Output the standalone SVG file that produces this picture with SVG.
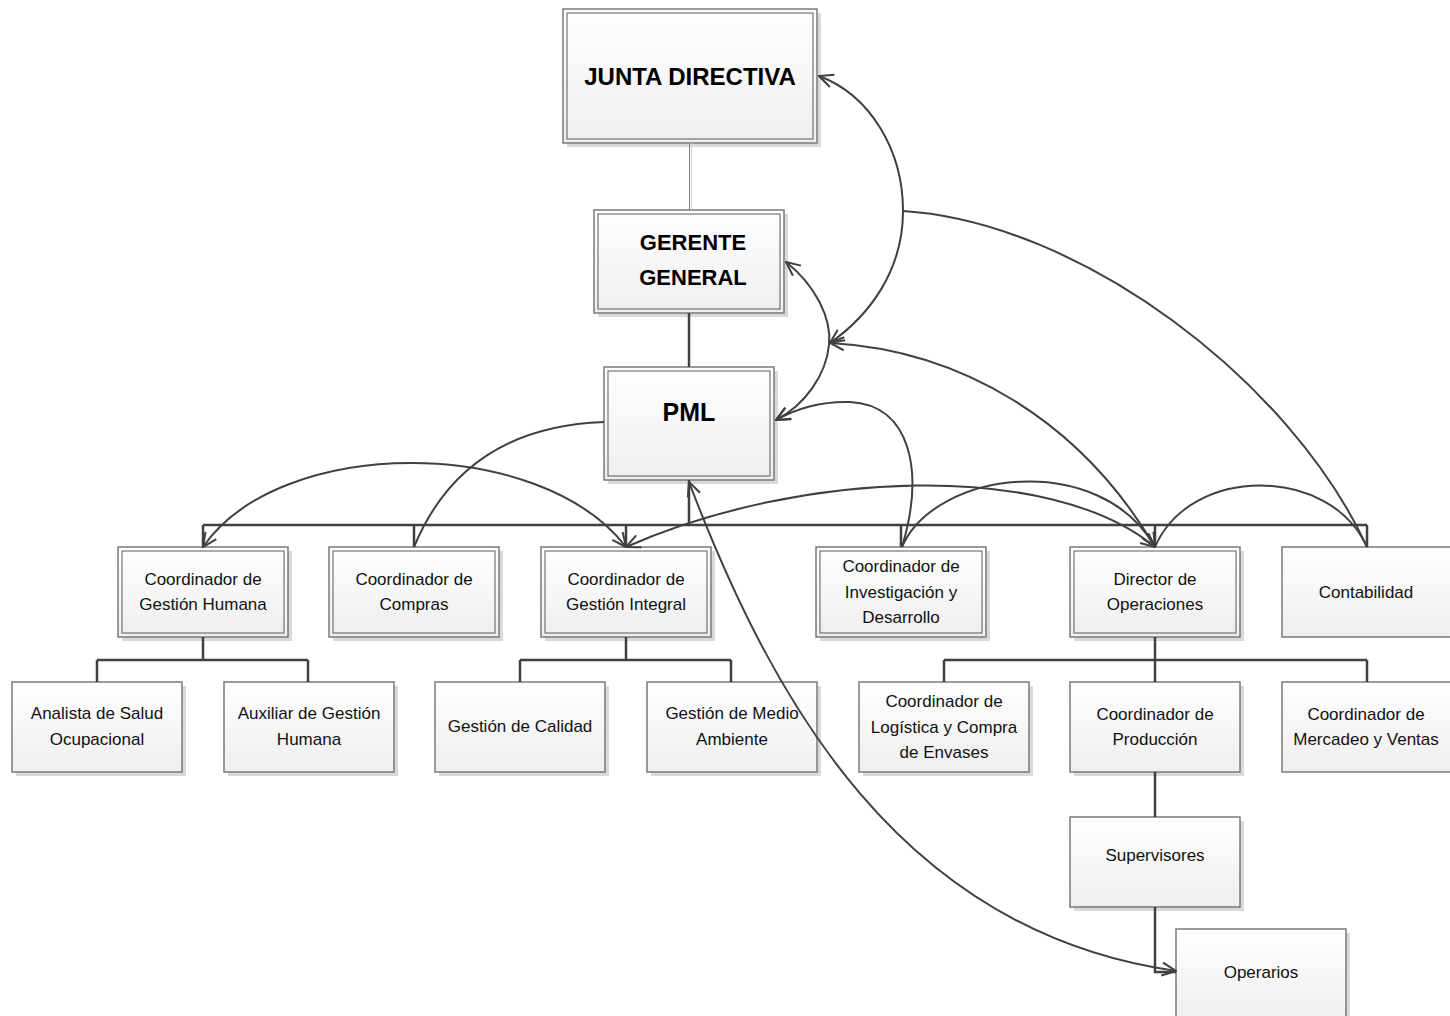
<svg xmlns="http://www.w3.org/2000/svg" width="1450" height="1016" viewBox="0 0 1450 1016">
<defs>
<linearGradient id="g" x1="0" y1="0" x2="0" y2="1"><stop offset="0" stop-color="#ffffff"/><stop offset="1" stop-color="#eeeeee"/></linearGradient>
<marker id="arr" viewBox="0 0 16 16" refX="15" refY="8" markerWidth="16" markerHeight="16" markerUnits="userSpaceOnUse" orient="auto-start-reverse"><path d="M1,1.5 L15,8 L1,14.5" fill="none" stroke="#404040" stroke-width="2"/></marker>
<style>
.sh{fill:#d9d9d9}
.box{fill:url(#g);stroke:#7a7a7a;stroke-width:1.5}
.in{fill:none;stroke:#5a5a5a;stroke-width:1}
.t{font-family:"Liberation Sans",Arial,sans-serif;font-size:17px;fill:#111;text-anchor:middle;dominant-baseline:central}
.b{font-family:"Liberation Sans",Arial,sans-serif;font-weight:bold;fill:#000;text-anchor:middle;dominant-baseline:central}
.tree{fill:none;stroke:#404040;stroke-width:2.5}
.cv{fill:none;stroke:#404040;stroke-width:2}
</style>
</defs>
<rect width="1450" height="1016" fill="#fff"/>

<g id="junta">
<rect class="sh" x="567" y="13" width="254" height="134"/>
<rect class="box" x="563" y="9" width="254" height="134"/>
<rect class="in" x="567" y="13" width="246" height="126"/>
<text class="b" font-size="24" x="690" y="76">JUNTA DIRECTIVA</text>
</g>
<g id="gerente">
<rect class="sh" x="598" y="214" width="190" height="103"/>
<rect class="box" x="594" y="210" width="190" height="103"/>
<rect class="in" x="598" y="214" width="182" height="95"/>
<text class="b" font-size="22" x="693" y="242">GERENTE</text>
<text class="b" font-size="22" x="693" y="277">GENERAL</text>
</g>
<g id="pml">
<rect class="sh" x="608" y="371" width="170" height="113"/>
<rect class="box" x="604" y="367" width="170" height="113"/>
<rect class="in" x="608" y="371" width="162" height="105"/>
<text class="b" font-size="25" x="689" y="412">PML</text>
</g>

<g id="gestion-humana">
<rect class="sh" x="122" y="551" width="170" height="90"/>
<rect class="box" x="118" y="547" width="170" height="90"/>
<rect class="in" x="122" y="551" width="162" height="82"/>
<text class="t" x="203" y="579">Coordinador de</text>
<text class="t" x="203" y="604">Gestión Humana</text>
</g>
<g id="compras">
<rect class="sh" x="333" y="551" width="170" height="90"/>
<rect class="box" x="329" y="547" width="170" height="90"/>
<rect class="in" x="333" y="551" width="162" height="82"/>
<text class="t" x="414" y="579">Coordinador de</text>
<text class="t" x="414" y="604">Compras</text>
</g>
<g id="gestion-integral">
<rect class="sh" x="545" y="551" width="170" height="90"/>
<rect class="box" x="541" y="547" width="170" height="90"/>
<rect class="in" x="545" y="551" width="162" height="82"/>
<text class="t" x="626" y="579">Coordinador de</text>
<text class="t" x="626" y="604">Gestión Integral</text>
</g>
<g id="investigacion">
<rect class="sh" x="820" y="551" width="170" height="90"/>
<rect class="box" x="816" y="547" width="170" height="90"/>
<rect class="in" x="820" y="551" width="162" height="82"/>
<text class="t" x="901" y="566">Coordinador de</text>
<text class="t" x="901" y="592">Investigación y</text>
<text class="t" x="901" y="617">Desarrollo</text>
</g>
<g id="director-operaciones">
<rect class="sh" x="1074" y="551" width="170" height="90"/>
<rect class="box" x="1070" y="547" width="170" height="90"/>
<rect class="in" x="1074" y="551" width="162" height="82"/>
<text class="t" x="1155" y="579">Director de</text>
<text class="t" x="1155" y="604">Operaciones</text>
</g>
<g id="contabilidad">
<rect class="box" x="1282" y="547" width="172" height="90"/>
<text class="t" x="1366" y="592">Contabilidad</text>
</g>

<g id="analista">
<rect class="sh" x="16" y="686" width="170" height="90"/>
<rect class="box" x="12" y="682" width="170" height="90"/>
<text class="t" x="97" y="713">Analista de Salud</text>
<text class="t" x="97" y="739">Ocupacional</text>
</g>
<g id="auxiliar">
<rect class="sh" x="228" y="686" width="170" height="90"/>
<rect class="box" x="224" y="682" width="170" height="90"/>
<text class="t" x="309" y="713">Auxiliar de Gestión</text>
<text class="t" x="309" y="739">Humana</text>
</g>
<g id="calidad">
<rect class="sh" x="439" y="686" width="170" height="90"/>
<rect class="box" x="435" y="682" width="170" height="90"/>
<text class="t" x="520" y="726">Gestión de Calidad</text>
</g>
<g id="medio-ambiente">
<rect class="sh" x="651" y="686" width="170" height="90"/>
<rect class="box" x="647" y="682" width="170" height="90"/>
<text class="t" x="732" y="713">Gestión de Medio</text>
<text class="t" x="732" y="739">Ambiente</text>
</g>
<g id="logistica">
<rect class="sh" x="863" y="686" width="170" height="90"/>
<rect class="box" x="859" y="682" width="170" height="90"/>
<text class="t" x="944" y="701">Coordinador de</text>
<text class="t" x="944" y="727">Logística y Compra</text>
<text class="t" x="944" y="752">de Envases</text>
</g>
<g id="produccion">
<rect class="sh" x="1074" y="686" width="170" height="90"/>
<rect class="box" x="1070" y="682" width="170" height="90"/>
<text class="t" x="1155" y="714">Coordinador de</text>
<text class="t" x="1155" y="739">Producción</text>
</g>
<g id="mercadeo">
<rect class="box" x="1282" y="682" width="172" height="90"/>
<text class="t" x="1366" y="714">Coordinador de</text>
<text class="t" x="1366" y="739">Mercadeo y Ventas</text>
</g>
<g id="supervisores">
<rect class="sh" x="1074" y="821" width="170" height="90"/>
<rect class="box" x="1070" y="817" width="170" height="90"/>
<text class="t" x="1155" y="855">Supervisores</text>
</g>
<g id="operarios">
<rect class="sh" x="1180" y="933" width="170" height="90"/>
<rect class="box" x="1176" y="929" width="170" height="90"/>
<text class="t" x="1261" y="972">Operarios</text>
</g>

<g id="connectors">
<line x1="689.5" y1="143" x2="689.5" y2="210" stroke="#808080" stroke-width="1"/>
<line x1="691.5" y1="143" x2="691.5" y2="210" stroke="#d0d0d0" stroke-width="1"/>
<path class="tree" d="M689,313 V367"/>
<path class="tree" d="M689,480 V525 M203,525 H1367 M203,525 V547 M414,525 V547 M626,525 V547 M901,525 V547 M1155,525 V547 M1367,525 V547"/>
<path class="tree" d="M203,637 V660 M97,660 H308 M97,660 V682 M308,660 V682"/>
<path class="tree" d="M626,637 V660 M520,660 H731 M520,660 V682 M731,660 V682"/>
<path class="tree" d="M1155,637 V682 M944,660 H1367 M944,660 V682 M1367,660 V682"/>
<path class="tree" d="M1155,772 V817 M1155,907 V972 H1176"/>
<path class="cv" marker-start="url(#arr)" marker-end="url(#arr)" d="M819,76 C870,95 903,150 903,211 C903,270 870,315 830,343"/>
<path class="cv" d="M903,211 C1080,222 1290,380 1367,547"/>
<path class="cv" marker-start="url(#arr)" marker-end="url(#arr)" d="M786,262 C815,285 832,318 829,345 C826,375 805,405 776,420"/>
<path class="cv" marker-start="url(#arr)" marker-end="url(#arr)" d="M1155,547 C1080,420 960,350 830,343"/>
<path class="cv" marker-end="url(#arr)" d="M902,547 C925,470 910,405 850,402 C815,401 792,411 776,420"/>
<path class="cv" d="M902,547 C935,470 1100,450 1155,547"/>
<path class="cv" d="M1155,547 C1190,465 1330,465 1367,547"/>
<path class="cv" marker-start="url(#arr)" marker-end="url(#arr)" d="M626,547 C800,470 1050,460 1155,547"/>
<path class="cv" marker-start="url(#arr)" marker-end="url(#arr)" d="M203,547 C280,435 540,435 626,547"/>
<path class="cv" d="M414,547 C450,460 520,425 604,422"/>
<path class="cv" marker-start="url(#arr)" marker-end="url(#arr)" d="M689,482 C772,700 900,932 1176,971"/>
</g>
</svg>
